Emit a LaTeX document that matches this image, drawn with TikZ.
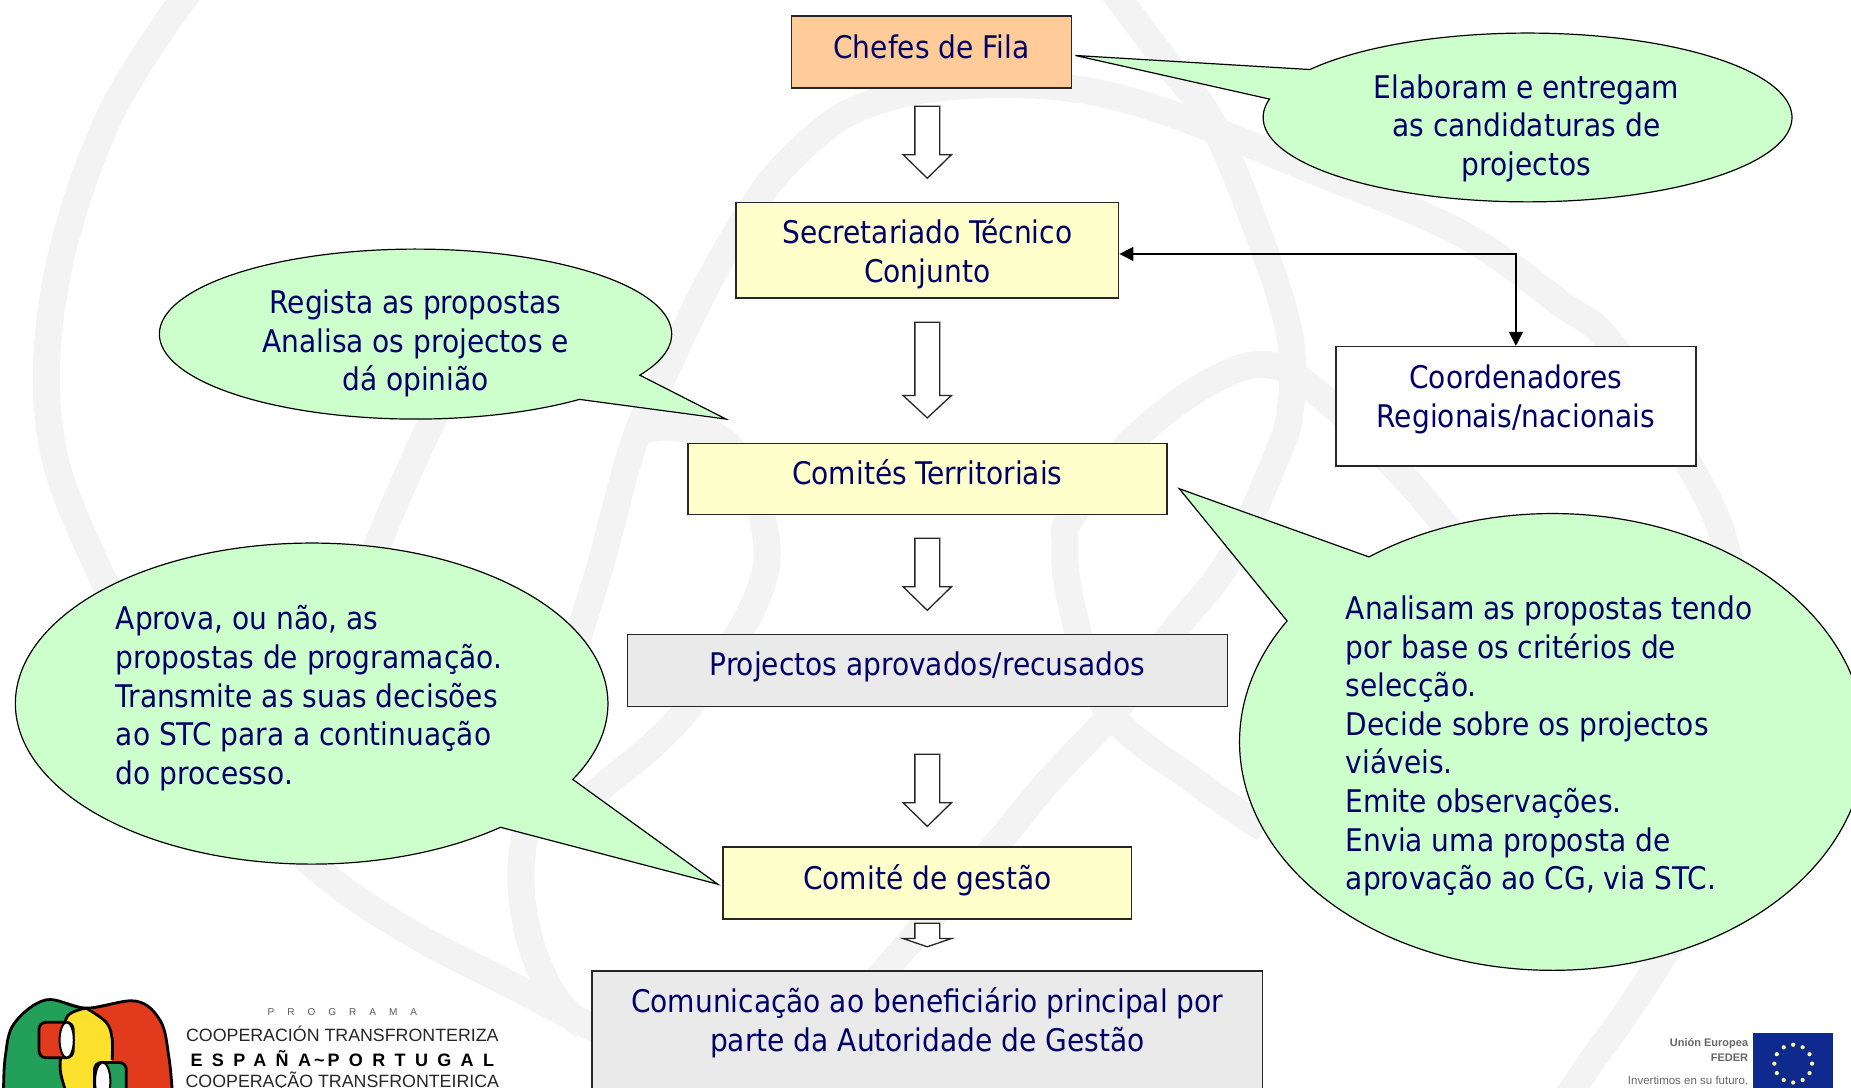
\documentclass[tikz,border=0pt]{standalone}
\usepackage{fontspec}
\usetikzlibrary{arrows.meta,calc}
\setmainfont{DejaVu Sans Condensed}
\newfontfamily\logofont{Liberation Sans}
\definecolor{navy}{HTML}{000066}
\definecolor{wm}{HTML}{F3F3F3}
\definecolor{peach}{HTML}{FFCC99}
\definecolor{pale}{HTML}{FFFFCC}
\definecolor{greyb}{HTML}{EAEAEA}
\definecolor{mint}{HTML}{CCFFCC}
\definecolor{lgreen}{HTML}{22A05A}
\definecolor{lred}{HTML}{E13A1C}
\definecolor{lyellow}{HTML}{FBE12D}
\definecolor{eublue}{HTML}{0F2A8E}
\def\u{1.1805pt}
\tikzset{
  x=1.1805pt,y=-1.1805pt,
  band/.style={draw=wm,line width=27pt,line cap=butt,line join=round},
  flowbox/.style={draw=black!85,line width=1.5pt,inner sep=0pt,anchor=north west},
  txt/.style={text=navy,align=center,inner sep=0pt,font=\fontsize{31.2}{38.6}\selectfont},
  txtl/.style={txt,align=left,anchor=west},
  bubble/.style={draw=black,fill=mint,line width=1.2pt,line join=miter},
  blockar/.style={draw=black!85,fill=white,line width=1.3pt,line join=miter},
  link/.style={draw=black,line width=1.5pt,{Triangle[length=14pt,width=14pt]}-{Triangle[length=14pt,width=14pt]}},
  logoline/.style={draw=black,line width=2.8pt,line join=round}
}
\newcommand{\callout}[7]{%
  \draw[bubble] (#7) -- plot[domain=#5:#6,samples=200,variable=\t] ({#1+#3*cos(\t)},{#2+#4*sin(\t)}) -- cycle;}
\newcommand{\blockarrow}[4]{%
  \draw[blockar] (775,#2) -- (796,#2) -- (796,#3) -- (806,#3) -- (785.5,#4) -- (765,#3) -- (775,#3) -- cycle;}
\begin{document}
\begin{tikzpicture}
\useasboundingbox (0,0) rectangle (1568,921);
\fill[white] (0,0) rectangle (1568,921);
% watermark
\draw[band] plot[smooth,tension=.6] coordinates {(162,-10)(92,100)(47,240)(43,370)(86,488)(160,630)(268,735)(346,789)(432,834)(540,890)};
\draw[band] plot[smooth,tension=.6] coordinates {(678,127)(648,160)(605,230)(562,318)(536,378)(510,474)(484,560)(445,705)(445,780)(467,840)(495,870)};
\draw[band] plot[smooth,tension=.6] coordinates {(678,127)(720,95)(790,75)(889,73)(976,91)(1106,142)(1236,197)(1322,257)(1366,293)(1439,408)(1465,474)(1480,560)(1470,700)(1400,824)(1349,898)(1320,940)};
\draw[band] plot[smooth,tension=.6] coordinates {(941,-10)(989,54)(1028,106)(1071,212)(1093,287)(1093,348)(1080,390)(1041,475)(993,536)(946,600)(889,661)(840,720)(760,810)(700,880)};
\draw[band] plot[smooth,tension=.6] coordinates {(1231,454)(1193,408)(1127,342)(1075,309)(1019,327)(954,378)(907,439)(902,458)(907,509)(937,600)(1011,661)(1071,702)};
\draw[band] plot[smooth,tension=.6] coordinates {(540,366)(570,362)(618,378)(648,449)(640,509)(583,600)(518,660)(480,680)(400,660)(330,620)(290,560)(315,474)(363,363)(400,290)};
% boxes
\node[flowbox,fill=peach,minimum width=237*\u,minimum height=61*\u] (chefes) at (670,13) {};
\node[flowbox,fill=pale,minimum width=324*\u,minimum height=81*\u] (sec) at (623,171) {};
\node[flowbox,fill=pale,minimum width=406*\u,minimum height=60*\u] (terr) at (582,375) {};
\node[flowbox,fill=greyb,minimum width=508*\u,minimum height=61*\u] (proj) at (531,537) {};
\node[flowbox,fill=pale,minimum width=346*\u,minimum height=61*\u] (gest) at (612,717) {};
\node[flowbox,fill=greyb,minimum width=568*\u,minimum height=140*\u] (comu) at (501,822) {};
\node[flowbox,fill=white,minimum width=305*\u,minimum height=101*\u] (coord) at (1131,293) {};
\node[txt] (chefest) at (789,40) {Chefes de Fila};
\node[txt] (sect) at (785.5,215) {Secretariado Técnico\\Conjunto};
\node[txt] (terrt) at (785.5,400) {Comités Territoriais};
\node[txt] (projt) at (785.5,565) {Projectos aprovados/recusados};
\node[txt] (gestt) at (785.5,746) {Comité de gestão};
\node[txt] (comut) at (785.5,866.5) {Comunicação ao beneficiário principal por\\parte da Autoridade de Gestão};
\node[txt] (coordt) at (1284,338.5) {Coordenadores\\Regionais/nacionais};
% block arrows
\blockarrow{785}{90}{131}{151}
\blockarrow{785}{273}{335}{354}
\blockarrow{785}{456}{497}{517}
\blockarrow{785}{639}{680}{700}
\blockarrow{785}{782}{795}{802}
% link
\draw[link] ([yshift=-3*\u]sec.east) -| (coord.north);
% callouts
\coordinate (tipa) at (911,47);
\coordinate (tipb) at (615,355);
\coordinate (tipc) at (608,749);
\coordinate (tipd) at (999,414);
\callout{1294}{99.5}{224}{71.5}{214.6}{552.6}{tipa}
\callout{352}{283}{217}{72}{50.2}{388.9}{tipb}
\callout{264}{596}{251}{136}{50.4}{388.2}{tipc}
\callout{1315}{628.5}{265}{193.5}{234.1}{572}{tipd}
\node[txt] (ta) at (1293,108.5) {Elaboram e entregam\\as candidaturas de\\projectos};
\node[txt] (tb) at (352,291) {Regista as propostas\\Analisa os projectos e\\dá opinião};
\node[txtl] (tc) at (98,591.5) {Aprova, ou não, as\\propostas de programação.\\Transmite as suas decisões\\ao STC para a continuação\\do processo.};
\node[txtl] (td) at (1140,632) {Analisam as propostas tendo\\por base os critérios de\\selecção.\\Decide sobre os projectos\\viáveis.\\Emite observações.\\Envia uma proposta de\\aprovação ao CG, via STC.};
% logo
\fill[lgreen] plot[smooth,tension=.6] coordinates {(3,925)(4.5,895)(12,867)(39,847)(73,854)} -- (57,925) -- cycle;
\fill[lred] plot[smooth,tension=.6] coordinates {(73,854)(115,848)(136,865)(143,895)(146,925)} -- (79,925) -- cycle;
\fill[lyellow] plot[smooth,tension=.6] coordinates {(73,854)(90,866)(95,880)(95,898)(80,909)(79,925)} -- (56,925) -- plot[smooth,tension=.6] coordinates {(56,925)(51,906)(53,884)(57,861)(73,854)};
\draw[logoline] plot[smooth,tension=.6] coordinates {(3,925)(4.5,895)(12,867)(39,847)(73,854)(115,848)(136,865)(143,895)(146,925)};
\draw[logoline] plot[smooth,tension=.6] coordinates {(73,854)(90,866)(95,880)(95,898)};
\draw[logoline] plot[smooth,tension=.6] coordinates {(73,854)(57,861)(53,884)(51,906)(56,925)};
\fill[lred,draw=black,line width=2.8pt,rounded corners=7pt] (33,866) rectangle (62,896);
\fill[white,draw=black,line width=2pt] (56.5,881) ellipse (6 and 15);
\fill[lgreen,draw=black,line width=2.8pt,rounded corners=7pt] (80,900) rectangle (107,945);
\fill[white,draw=black,line width=2pt] (87,916) ellipse (6.5 and 16);
\node[inner sep=0pt,text=black!65] (lp) at (290,857) {\logofont\fontsize{10}{12}\selectfont\addfontfeatures{LetterSpace=130}PROGRAMA};
\node[inner sep=0pt,text=black!85] (lc) at (290,876) {\logofont\fontsize{17.8}{20}\selectfont COOPERACIÓN TRANSFRONTERIZA};
\node[inner sep=0pt,text=black] (le) at (290,897) {\logofont\bfseries\fontsize{18}{20}\selectfont\addfontfeatures{LetterSpace=52}ESPAÑA\,\textasciitilde\,PORTUGAL};
\node[inner sep=0pt,text=black!85] (lo) at (290,916) {\logofont\fontsize{17.8}{20}\selectfont COOPERAÇÃO TRANSFRONTEIRICA};
% EU
\fill[eublue] (1485,875) rectangle (1553,925);
\foreach \a in {0,30,...,330}{\fill[yellow!40!white] ({1519+16*cos(\a)},{901+16*sin(\a)}) circle (1.8);}
\node[inner sep=0pt,anchor=east,text=black!60] (ue) at (1481,884) {\logofont\bfseries\fontsize{11}{13}\selectfont Unión Europea};
\node[inner sep=0pt,anchor=east,text=black!60] (uf) at (1481,896) {\logofont\bfseries\fontsize{11}{13}\selectfont FEDER};
\node[inner sep=0pt,anchor=east,text=black!60] (ui) at (1481,915) {\logofont\fontsize{11.5}{13}\selectfont Invertimos en su futuro.};
\end{tikzpicture}
\end{document}
